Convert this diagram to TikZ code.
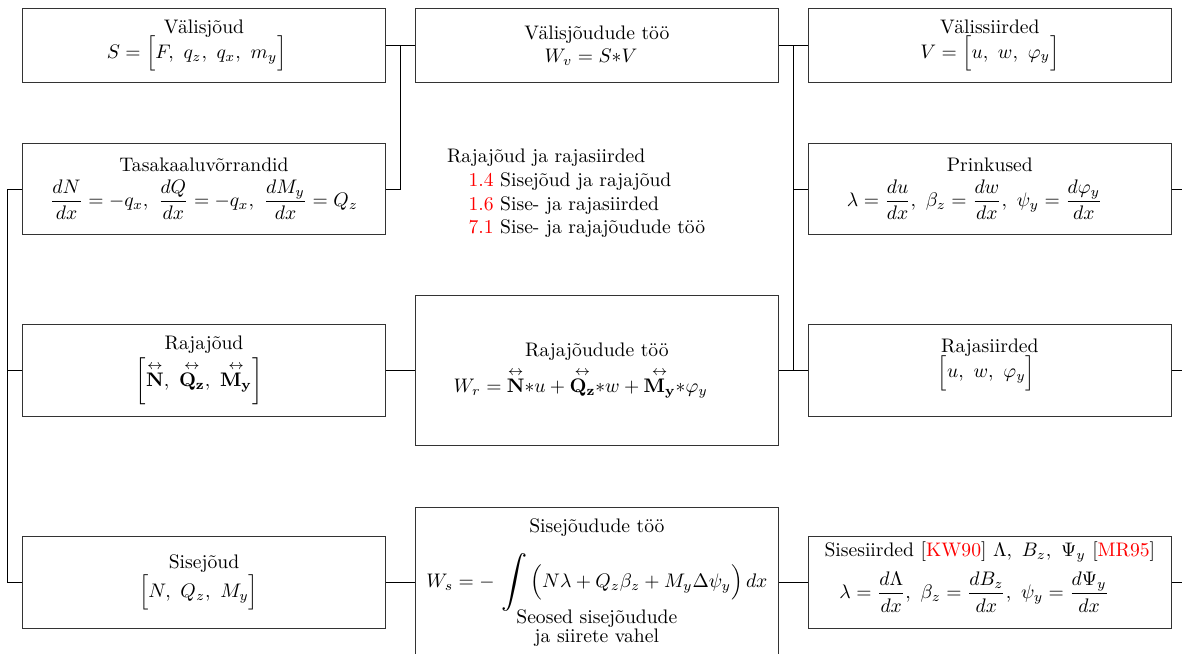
\documentclass[tikz,border=0pt]{standalone}
\usepackage{amsmath}
\usepackage{graphicx}
\usepackage{xcolor}
\usetikzlibrary{positioning,calc}
\newcommand{\rnool}[1]{\overset{\leftrightarrow}{\mathbf{#1}}}
\newcommand{\suurint}{\mathop{\vcenter{\hbox{\scalebox{1.33}{$\displaystyle\int$}}}}}
\tikzset{
  blokk/.style={draw=black!80, align=center, minimum width=6.52cm, inner sep=2pt},
  madal/.style={blokk, minimum height=1.34cm},
  keskmine/.style={blokk, minimum height=1.64cm},
  korge/.style={blokk, minimum height=2.70cm},
}

\begin{document}
\begin{tikzpicture}
\useasboundingbox (0,0) rectangle (21.19,-11.72);
\clip (0,0) rectangle (21.19,-11.72);
% valisjoud ja valissiirded
\node[madal] (vj) at (3.657,-0.816) {Välisjõud\\[-2pt] $S=\Big[F,\ q_z,\ q_x,\ m_y\Big]$\hspace*{7.5pt}};
\node[madal] (vjt) at (10.70,-0.816) {Välisjõudude töö\\[0pt] $W_v=S{*}V$\hspace*{6pt}};
\node[madal] (vs) at (17.745,-0.816) {Välissiirded\\[0.3pt] $V=\Big[u,\ w,\ \varphi_y\Big]$};
% tasakaal ja prinkused
\node[keskmine] (tasa) at (3.657,-3.388) {Tasakaaluvõrrandid\\[3pt] $\dfrac{dN}{dx}=-q_x,\ \dfrac{dQ}{dx}=-q_x,\ \dfrac{dM_y}{dx}=Q_z$};
\node[keskmine] (prink) at (17.745,-3.388) {Prinkused\\[3pt] $\lambda=\dfrac{du}{dx},\ \beta_z=\dfrac{dw}{dx},\ \psi_y=\dfrac{d\varphi_y}{dx}$\hspace*{15.5pt}};
\node[align=left, anchor=north west, inner sep=0pt] (viited) at (8.007,-2.671) {Rajajõud ja rajasiirded\\
  \hspace{11pt}\textcolor{red}{1.4} Sisejõud ja rajajõud\\
  \hspace{11pt}\textcolor{red}{1.6} Sise- ja rajasiirded\\
  \hspace{11pt}\textcolor{red}{7.1} Sise- ja rajajõudude töö};
% rajal
\node[keskmine] (rajajoud) at (3.657,-6.641) {Rajajõud\\[1.3pt] $\bigg[\rnool{N},\ \rnool{Q_z},\ \rnool{M_y}\bigg]$\hspace*{5pt}};
\node[korge] (rajat) at (10.70,-6.641) {Rajajõudude töö\\[3pt] $W_r=\rnool{N}{*}u+\rnool{Q_z}{*}w+\rnool{M_y}{*}\varphi_y$\hspace*{16.5pt}};
\node[keskmine] (rajas) at (17.745,-6.641) {Rajasiirded\\[-1.8pt] $\Big[u,\ w,\ \varphi_y\Big]$\hspace*{3.5pt}\rule[-12pt]{0pt}{0pt}};
% sisemised
\node[keskmine] (sisej) at (3.657,-10.441) {Sisejõud\\[0.3pt] $\Big[N,\ Q_z,\ M_y\Big]$\hspace*{5.5pt}};
\node[korge] (sisejt) at (10.70,-10.441) {Sisejõudude töö\\[7.8pt] $W_s=-\,\suurint\Big(N\lambda+Q_z\beta_z+M_y\Delta\psi_y\Big)\,dx$\\[-2pt] Seosed sisejõudude\\[-2.5pt] ja siirete vahel};
\node[keskmine] (sises) at (17.745,-10.441) {Sisesiirded [\textcolor{red}{KW90}] $\Lambda,\ B_z,\ \Psi_y$ [\textcolor{red}{MR95}]\\[4pt] $\lambda=\dfrac{d\Lambda}{dx},\ \beta_z=\dfrac{dB_z}{dx},\ \psi_y=\dfrac{d\Psi_y}{dx}$\hspace*{16pt}\rule[-12.5pt]{0pt}{0pt}};
% uhendused
\coordinate (m1) at ($(vj.east)!0.5!(vjt.west)$);
\coordinate (m2) at ($(vjt.east)!0.5!(vs.west)$);
\coordinate (buss) at (0.125,0);
\coordinate (valja) at (21.5,0);
\draw (vj.east) -- (vjt.west);
\draw (vjt.east) -- (vs.west);
\draw (m1) |- (tasa.east);
\draw (m2) |- (rajat.east);
\draw (prink.west -| m2) -- (prink.west);
\draw (rajajoud.east) -- (rajat.west);
\draw (rajat.east) -- (rajas.west);
\draw (sisej.east) -- (sisejt.west);
\draw (sisejt.east) -- (sises.west);
\draw (tasa.west) -| (buss |- sisej.west) -- (sisej.west);
\draw (rajajoud.west) -- (rajajoud.west -| buss);
\draw (prink.east) -- (prink.east -| valja);
\draw (rajas.east) -- (rajas.east -| valja);
\draw (sises.east) -- (sises.east -| valja);
\end{tikzpicture}
\end{document}
